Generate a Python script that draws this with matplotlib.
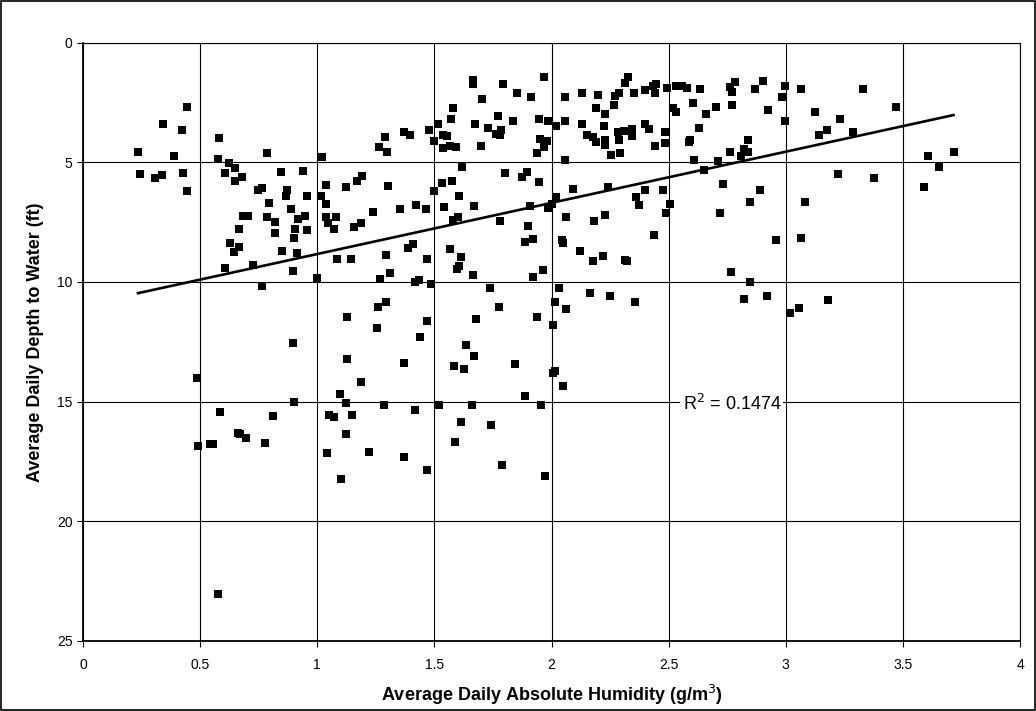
import matplotlib
matplotlib.use("Agg")
import matplotlib.pyplot as plt
import numpy as np
from matplotlib.patches import Rectangle

plt.rcParams['font.family'] = ['Liberation Sans', 'DejaVu Sans']

# Average daily absolute humidity (g/m3) vs average daily depth to water (ft)
humidity = [
    0.445, 0.341, 0.424, 0.579, 0.235, 0.39, 0.785, 1.019, 0.575, 0.245,
    0.306, 0.336, 0.425, 0.444, 0.623, 0.647, 0.607, 0.677, 0.651, 0.845,
    0.94, 1.036, 0.748, 0.763, 0.872, 0.866, 0.957, 1.016, 1.036, 0.793,
    0.888, 0.684, 0.706, 0.785, 0.819, 0.919, 0.948, 1.036, 1.044, 0.664,
    0.818, 0.905, 0.955, 0.902,
    0.629, 0.667, 0.643, 0.848, 0.913, 0.606, 0.724, 0.895, 1.0, 0.764,
    0.895, 0.487, 0.9, 0.583, 0.812, 0.66, 0.671, 0.697, 0.775, 0.489,
    0.542, 0.555, 1.041, 0.575,
    1.666, 1.666, 1.791, 1.968, 1.853, 1.913, 1.703, 1.579, 1.571, 1.772,
    1.834, 1.947, 1.986, 2.019, 1.674, 1.73, 1.785, 1.765, 1.78, 1.516,
    1.475, 1.37, 1.397, 1.289, 1.265, 1.296, 1.5, 1.535, 1.552, 1.538,
    1.566, 1.592, 1.699, 1.952, 1.979, 1.968, 1.936, 1.616, 1.802, 1.872,
    1.896, 1.945, 2.019, 1.532, 1.575, 1.5, 1.603, 1.539, 1.67, 1.121,
    1.171, 1.189, 1.304, 1.238, 1.354, 1.42, 1.465, 1.078, 1.071, 1.158,
    1.188, 1.58, 1.6, 1.782, 1.91, 1.987, 2.003, 1.9, 1.885, 1.922,
    1.408, 1.388, 1.565,
    1.083, 1.143, 1.292, 1.47, 1.309, 1.268, 1.416, 1.434, 1.484, 1.613,
    1.595, 1.605, 1.663, 1.962, 1.922, 2.03, 1.736, 2.013, 1.293, 1.259,
    1.776, 1.128, 1.676, 1.939, 2.006, 1.47, 1.253, 1.438, 1.633, 1.669,
    1.127, 1.37, 1.585, 1.626, 1.844, 2.016, 2.007, 1.188, 1.096, 1.121,
    1.286, 1.419, 1.519, 1.659, 1.886, 1.955, 1.05, 1.073, 1.148, 1.124,
    1.615, 1.74, 1.588, 1.219, 1.37, 1.468, 1.788, 1.974, 1.1,
    2.325, 2.314, 2.056, 2.131, 2.198, 2.273, 2.29, 2.353, 2.399, 2.434,
    2.448, 2.44, 2.494, 2.531, 2.557, 2.577, 2.633, 2.783, 2.763, 2.77,
    2.903, 2.868, 2.997, 2.985, 2.189, 2.228, 2.268, 2.519, 2.531, 2.605,
    2.7, 2.659, 2.77, 2.922, 2.995, 2.056, 2.132, 2.224, 2.15, 2.175,
    2.189, 2.228, 2.229, 2.285, 2.308, 2.343, 2.342, 2.289, 2.256, 2.292,
    2.399, 2.416, 2.485, 2.44, 2.485, 2.591, 2.589, 2.629, 2.058, 2.609,
    2.65, 2.709, 2.761, 2.838, 2.822, 2.837, 2.808, 2.73, 2.892, 2.847,
    2.72, 2.96, 2.093, 2.239, 2.061, 2.18, 2.229, 2.36, 2.374, 2.399,
    2.474, 2.505, 2.488, 2.436, 2.044, 2.05,
    2.121, 2.175, 2.221, 2.314, 2.323, 2.767, 2.847, 2.821, 2.92, 3.02,
    2.06, 2.164, 2.248, 2.357, 2.05,
    3.066, 3.329, 3.47, 3.125, 3.232, 3.174, 3.141, 3.286, 3.609, 3.716,
    3.653, 3.592, 3.222, 3.377, 3.08, 3.067, 3.181, 3.055,
]

depth = [
    2.69, 3.40, 3.67, 3.98, 4.58, 4.75, 4.61, 4.76, 4.85, 5.49,
    5.67, 5.53, 5.45, 6.2, 5.04, 5.22, 5.43, 5.6, 5.77, 5.39,
    5.35, 5.93, 6.17, 6.09, 6.14, 6.42, 6.4, 6.4, 6.75, 6.7,
    6.96, 7.24, 7.26, 7.29, 7.48, 7.38, 7.26, 7.27, 7.52, 7.8,
    7.96, 7.77, 7.84, 8.17,
    8.36, 8.55, 8.75, 8.72, 8.8, 9.4, 9.28, 9.54, 9.83, 10.15,
    12.54, 14.02, 15.03, 15.42, 15.59, 16.3, 16.37, 16.52, 16.74, 16.84,
    16.78, 16.78, 17.13, 23.05,
    1.56, 1.73, 1.74, 1.42, 2.12, 2.27, 2.35, 2.74, 3.17, 3.08,
    3.27, 3.17, 3.26, 3.5, 3.41, 3.55, 3.66, 3.83, 3.84, 3.41,
    3.63, 3.74, 3.87, 3.96, 4.37, 4.55, 4.11, 3.87, 3.92, 4.41,
    4.32, 4.36, 4.33, 4.01, 4.09, 4.34, 4.62, 5.18, 5.45, 5.6,
    5.39, 5.81, 6.43, 5.85, 5.8, 6.2, 6.4, 6.87, 6.84, 6.04,
    5.76, 5.56, 6.01, 7.09, 6.95, 6.78, 6.96, 7.27, 7.78, 7.69,
    7.52, 7.41, 7.3, 7.44, 6.81, 6.91, 6.73, 7.65, 8.33, 8.22,
    8.42, 8.57, 8.62,
    9.03, 9.06, 8.86, 9.04, 9.61, 9.86, 9.99, 9.92, 10.08, 8.96,
    9.47, 9.33, 9.7, 9.5, 9.78, 10.26, 10.25, 10.85, 10.84, 11.05,
    11.04, 11.48, 11.53, 11.48, 11.81, 11.62, 11.91, 12.31, 12.65, 13.1,
    13.22, 13.4, 13.5, 13.65, 13.43, 13.72, 13.81, 14.19, 14.67, 15.07,
    15.15, 15.36, 15.15, 15.15, 14.75, 15.15, 15.56, 15.65, 15.56, 16.34,
    15.87, 15.96, 16.7, 17.1, 17.33, 17.84, 17.63, 18.12, 18.24,
    1.42, 1.7, 2.28, 2.09, 2.19, 2.23, 2.12, 2.09, 1.98, 1.83,
    1.72, 2.12, 1.88, 1.83, 1.83, 1.9, 1.95, 1.63, 1.86, 2.08,
    1.59, 1.93, 1.83, 2.29, 2.74, 2.98, 2.6, 2.71, 2.91, 2.53,
    2.67, 2.97, 2.6, 2.83, 3.26, 3.26, 3.38, 3.48, 3.87, 3.96,
    4.15, 4.28, 4.06, 3.72, 3.68, 3.59, 3.89, 4.06, 4.69, 4.62,
    3.38, 3.62, 3.73, 4.32, 4.2, 4.06, 4.17, 3.55, 4.9, 4.91,
    5.33, 4.94, 4.58, 4.07, 4.43, 4.58, 4.75, 5.9, 6.15, 6.64,
    7.1, 8.24, 6.13, 6.03, 7.27, 7.46, 7.21, 6.43, 6.78, 6.15,
    6.15, 6.75, 7.13, 8.02, 8.24, 8.38,
    8.72, 9.12, 8.9, 9.08, 9.12, 9.57, 9.98, 10.7, 10.58, 11.28,
    11.13, 10.44, 10.6, 10.85, 14.35,
    1.94, 1.92, 2.7, 2.89, 3.2, 3.67, 3.85, 3.72, 4.73, 4.58,
    5.18, 6.04, 5.47, 5.67, 6.66, 8.15, 10.74, 11.07,
]

# linear trendline as drawn on the chart
trend_slope = -2.138
trend_intercept = 10.97
r_squared_label = "R$^2$ = 0.1474"

x_ticks = [0, 0.5, 1, 1.5, 2, 2.5, 3, 3.5, 4]
x_tick_labels = ["0", "0.5", "1", "1.5", "2", "2.5", "3", "3.5", "4"]
y_ticks = [0, 5, 10, 15, 20, 25]

fig = plt.figure(figsize=(10.36, 7.11), dpi=100)
ax = fig.add_axes([0.0801, 0.0985, 0.9045, 0.8415])

ax.scatter(humidity, depth, marker='s', s=36, color='black', linewidths=0, zorder=3)

# trendline over the data range
x_fit = np.array([min(humidity), max(humidity)])
ax.plot(x_fit, trend_slope * x_fit + trend_intercept, color='black', lw=1.9, zorder=4)

ax.text(2.77, 15.1, r_squared_label, fontsize=13, ha='center', va='center',
        bbox=dict(facecolor='white', edgecolor='none', pad=1.5), zorder=5)

ax.set_xlim(0, 4)
ax.set_ylim(25, 0)
ax.set_xticks(x_ticks)
ax.set_xticklabels(x_tick_labels)
ax.set_yticks(y_ticks)
ax.tick_params(axis='both', direction='out', length=4, width=0.8, labelsize=10, color='black')
ax.tick_params(axis='x', pad=8)
ax.grid(True, color='black', linewidth=0.8)
ax.set_axisbelow(True)
for sp in ax.spines.values():
    sp.set_color('black')
    sp.set_linewidth(0.8)
ax.spines['bottom'].set_linewidth(1.3)
ax.spines['left'].set_linewidth(1.3)

ax.set_xlabel("Average Daily Absolute Humidity (g/m$^3$)", fontsize=13, fontweight='bold', labelpad=8)
ax.set_ylabel("Average Daily Depth to Water (ft)", fontsize=13, fontweight='bold', labelpad=9)

# outer chart border
fig.patches.append(Rectangle((0.001, 0.001), 0.998, 0.998, transform=fig.transFigure,
                             fill=False, edgecolor='black', linewidth=1.2))

fig.savefig("out.png", dpi=100)
